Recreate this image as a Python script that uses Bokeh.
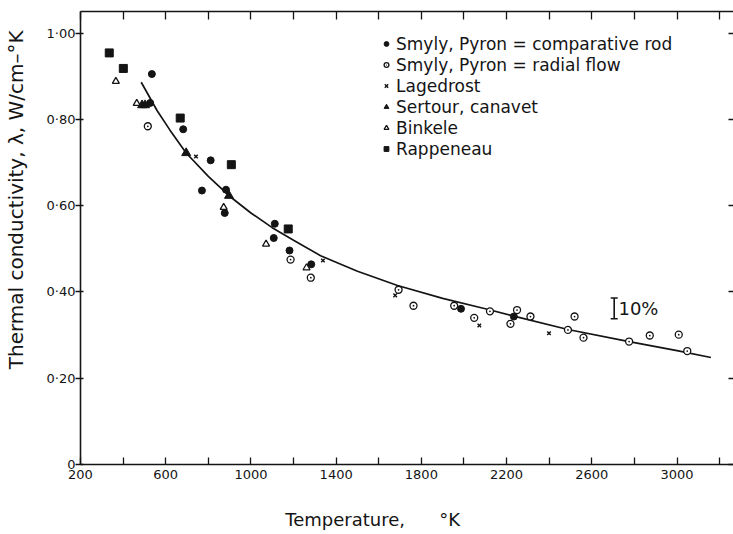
from bokeh.plotting import figure
from bokeh.models import FixedTicker, LinearAxis, Legend, LegendItem, Range1d
from bokeh.embed import file_html
from bokeh.resources import INLINE
from bokeh.core.properties import value

FONT = "DejaVu Sans"
INK = "#141414"

# ---------------- data ----------------
# Smyly, Pyron - comparative rod (filled circles)
rod_T = [527, 535, 682, 770, 811, 877, 883, 1107, 1112, 1181, 1283, 1986, 2234]
rod_k = [0.838, 0.905, 0.777, 0.635, 0.705, 0.583, 0.637, 0.525, 0.558, 0.496, 0.464, 0.361, 0.343]

# Smyly, Pyron - radial flow (dotted open circles)
rad_T = [516, 1186, 1281, 1693, 1763, 1954, 2048, 2122, 2218, 2249, 2312, 2488, 2519,
         2561, 2775, 2872, 3008, 3048]
rad_k = [0.784, 0.475, 0.433, 0.405, 0.368, 0.368, 0.340, 0.355, 0.326, 0.358, 0.343, 0.312,
         0.343, 0.294, 0.285, 0.299, 0.301, 0.263]

# Lagedrost (x)
lag_T = [742, 1338, 1677, 2072, 2399]
lag_k = [0.714, 0.473, 0.392, 0.322, 0.304]

# Sertour, canavet (filled triangles)
ser_T = [489, 503, 696, 897]
ser_k = [0.833, 0.833, 0.722, 0.623]

# Binkele (open triangles)
bin_T = [366, 464, 872, 1071, 1261]
bin_k = [0.888, 0.837, 0.596, 0.511, 0.456]

# Rappeneau (filled squares)
rap_T = [335, 401, 668, 908, 1175]
rap_k = [0.954, 0.918, 0.803, 0.695, 0.546]

# drawn mean curve
curve_T = [485, 560, 620, 696, 800, 897, 1000, 1100, 1200, 1327, 1500, 1688, 1900,
           2100, 2234, 2488, 2775, 3000, 3159]
curve_k = [0.886, 0.820, 0.775, 0.722, 0.668, 0.623, 0.583, 0.549, 0.520, 0.484, 0.448,
           0.415, 0.385, 0.361, 0.344, 0.313, 0.285, 0.264, 0.248]

# "10 %" scale bar
bar_T = 2705
bar_lo = 0.338
bar_hi = 0.386
bar_text = "10%"

series_labels = ["Smyly, Pyron = comparative rod", "Smyly, Pyron = radial flow",
                 "Lagedrost", "Sertour, canavet", "Binkele", "Rappeneau"]

x_major = [200, 600, 1000, 1400, 1800, 2200, 2600, 3000]
x_minor = [400, 800, 1200, 1600, 2000, 2400, 2800, 3200]
y_ticks = [0, 0.2, 0.4, 0.6, 0.8, 1.0]
y_tick_labels = ["0", "0\u00b720", "0\u00b740", "0\u00b760", "0\u00b780", "1\u00b700"]

x_title = "Temperature," + "\u00a0" * 6 + "\u00b0K"
y_title = "Thermal conductivity, \u03bb, W/cm\u2013\u00b0K"

# ---------------- figure ----------------
p = figure(width=733, height=534, output_backend="svg", toolbar_location=None,
           x_range=Range1d(200, 3265), y_range=Range1d(0, 1.05),
           x_axis_location=None, y_axis_location=None,
           min_border_left=80, min_border_right=0, min_border_top=11, min_border_bottom=70)
p.outline_line_color = None
p.xgrid.visible = False
p.ygrid.visible = False
p.background_fill_color = "white"
p.border_fill_color = "white"

xt = FixedTicker(ticks=x_major, minor_ticks=x_minor)
yt = FixedTicker(ticks=y_ticks, minor_ticks=[])


def style(ax):
    ax.axis_line_color = INK
    ax.axis_line_width = 1.6
    ax.major_tick_line_color = INK
    ax.minor_tick_line_color = INK
    ax.major_tick_line_width = 1.3
    ax.minor_tick_line_width = 1.3
    ax.major_label_text_font = FONT
    ax.major_label_text_color = INK
    ax.axis_label_text_font = FONT
    ax.axis_label_text_color = INK
    ax.axis_label_text_font_style = "normal"


def hide_labels(ax):
    ax.major_label_text_font_size = "0px"
    ax.major_label_text_alpha = 0
    ax.major_label_text_color = None
    ax.major_label_standoff = 0


bottom = LinearAxis(ticker=xt)
style(bottom)
bottom.major_tick_in = 7
bottom.major_tick_out = 0
bottom.minor_tick_in = 7
bottom.minor_tick_out = 0
bottom.major_label_text_font_size = "13px"
bottom.major_label_standoff = 5
bottom.axis_label = x_title + "\u00a0" * 12
bottom.axis_label_text_font_size = "18px"
bottom.axis_label_standoff = 27
p.add_layout(bottom, "below")

top = LinearAxis(ticker=xt)
style(top)
top.major_tick_in = 8
top.major_tick_out = 0
top.minor_tick_in = 8
top.minor_tick_out = 0
hide_labels(top)
p.add_layout(top, "above")

left = LinearAxis(ticker=yt)
style(left)
left.major_tick_in = 3
left.major_tick_out = 5
left.major_label_text_font_size = "13px"
left.major_label_standoff = 0
left.major_label_overrides = {t: s for t, s in zip(y_ticks, y_tick_labels)}
left.axis_label = "\u00a0" * 12 + y_title
left.axis_label_text_font_size = "20px"
left.axis_label_standoff = 16
p.add_layout(left, "left")

right = LinearAxis(ticker=yt)
style(right)
right.axis_line_alpha = 0
right.major_tick_in = 5
right.major_tick_out = 0
hide_labels(right)
p.add_layout(right, "right")

# ---------------- glyphs ----------------
p.line(curve_T, curve_k, line_color=INK, line_width=1.7)

r_rod = p.scatter(rod_T, rod_k, marker="circle", size=7, fill_color=INK, line_color=INK)
r_rad = p.scatter(rad_T, rad_k, marker="circle_dot", size=7, fill_color="white",
                  line_color=INK, line_width=1.3)
r_lag = p.scatter(lag_T, lag_k, marker="x", size=5, line_color=INK, line_width=1.4)
r_ser = p.scatter(ser_T, ser_k, marker="triangle", size=9, fill_color=INK, line_color=INK)
r_bin = p.scatter(bin_T, bin_k, marker="triangle", size=7, fill_color="white",
                  line_color=INK, line_width=1.3)
r_rap = p.scatter(rap_T, rap_k, marker="square", size=8, fill_color=INK, line_color=INK)

# 10 % bar
p.segment(x0=[bar_T], y0=[bar_lo], x1=[bar_T], y1=[bar_hi], line_color=INK, line_width=1.6)
p.scatter([bar_T, bar_T], [bar_lo, bar_hi], marker="dash", size=7, line_color=INK, line_width=1.5)
p.text(x=[bar_T + 20], y=[(bar_lo + bar_hi) / 2], text=[bar_text], text_font=value(FONT),
       text_font_size="18px", text_color=INK, text_baseline="middle", text_align="left")

legend = Legend(
    items=[LegendItem(label=lab, renderers=[r]) for lab, r in
           zip(series_labels, [r_rod, r_rad, r_lag, r_ser, r_bin, r_rap])],
    location=(300, 305),
    orientation="vertical",
    label_text_font=FONT, label_text_font_size="17px", label_text_color=INK,
    glyph_width=12, glyph_height=21, label_height=21, label_standoff=4,
    spacing=0, padding=0, margin=0,
    border_line_alpha=0, background_fill_alpha=0,
)
p.add_layout(legend)

open("out.html", "w").write(file_html(p, INLINE))
